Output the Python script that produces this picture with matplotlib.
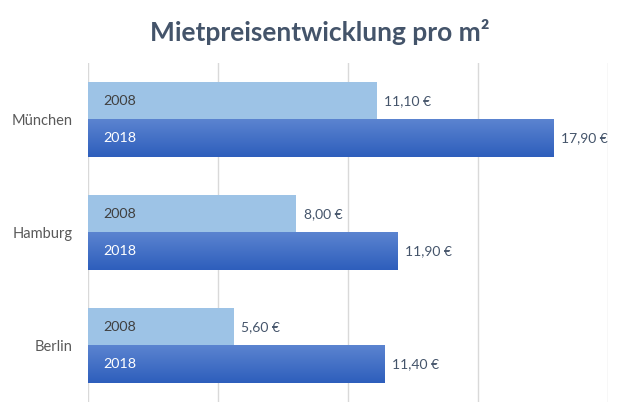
import numpy as np
import matplotlib
matplotlib.use("Agg")
import matplotlib.pyplot as plt
from matplotlib.colors import LinearSegmentedColormap

# Data
cities = ["München", "Hamburg", "Berlin"]
years = ["2008", "2018"]
values_2008 = [11.10, 8.00, 5.60]
values_2018 = [17.90, 11.90, 11.40]

plt.rcParams['font.family'] = ['Lato', 'DejaVu Sans']
text_col = "#44546A"

fig = plt.figure(figsize=(6.39, 4.19), dpi=100)
ax = fig.add_axes([88 / 639, 1 - 402 / 419, 520 / 639, 339 / 419])

y = np.arange(len(cities))
h = 0.33

# 2008 bars, flat light blue
bars08 = ax.barh(y - h / 2, values_2008, height=h, color="#9DC3E6", zorder=2)

# 2018 bars, vertical gradient
grad = LinearSegmentedColormap.from_list("g", ["#5B84D0", "#2E5EBC"])
bars18 = ax.barh(y + h / 2, values_2018, height=h, color="none", zorder=2)
for b in bars18:
    x0, y0 = b.get_x(), b.get_y()
    ax.imshow(np.linspace(0, 1, 50).reshape(-1, 1), cmap=grad, aspect="auto",
              extent=[x0, x0 + b.get_width(), y0 + b.get_height(), y0],
              zorder=2, origin="upper")

ax.set_xlim(0, 20)
ax.set_ylim(2.5, -0.5)
ax.set_xticks([0, 5, 10, 15, 20])
ax.xaxis.grid(True, color="#D9D9D9", lw=1, zorder=0)
ax.set_xticklabels([])
ax.tick_params(axis="both", length=0)
ax.set_yticks(y)
ax.set_yticklabels(cities, color="#595959", fontsize=10.5)
ax.tick_params(axis="y", pad=11)
for s in ax.spines.values():
    s.set_visible(False)

# series names inside bars and value labels
for i in range(len(cities)):
    ax.text(0.6, y[i] - h / 2, years[0], va="center", ha="left",
            color="#404040", fontsize=10.3, zorder=3)
    ax.text(0.6, y[i] + h / 2, years[1], va="center", ha="left",
            color="white", fontsize=10.3, zorder=3)
    ax.text(values_2008[i] + 0.3, y[i] - h / 2,
            f"{values_2008[i]:.2f} €".replace(".", ","),
            va="center", ha="left", color=text_col, fontsize=10)
    ax.text(values_2018[i] + 0.3, y[i] + h / 2,
            f"{values_2018[i]:.2f} €".replace(".", ","),
            va="center", ha="left", color=text_col, fontsize=10)

fig.text(0.5, 1 - 32 / 419, "Mietpreisentwicklung pro m²", ha="center",
         va="center", fontsize=19, fontweight="bold", color=text_col)

fig.savefig("out.png", dpi=100)
